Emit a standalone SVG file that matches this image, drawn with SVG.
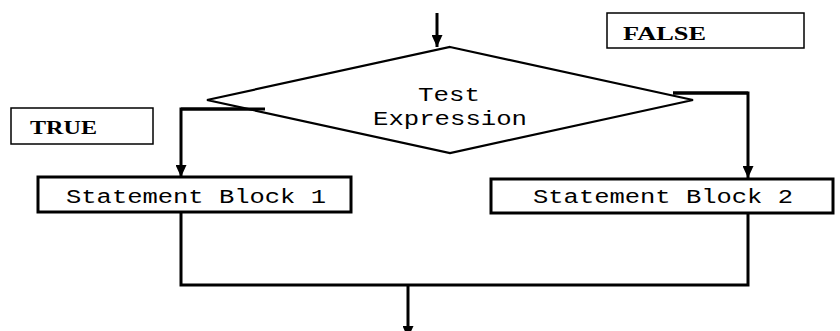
<svg xmlns="http://www.w3.org/2000/svg" width="840" height="331" viewBox="0 0 840 331">
<style>
.box{fill:#fff;stroke:#000;stroke-width:3}
.lbl{fill:#fff;stroke:#000;stroke-width:1.5}
.dia{fill:#fff;stroke:#000;stroke-width:2.2}
.mono{font-family:"Liberation Mono","Courier New",monospace;font-size:20px;fill:#000}
.serif{font-family:"Liberation Serif","Times New Roman",serif;font-weight:bold;font-size:19px;fill:#000}
.conn{fill:none;stroke:#000;stroke-width:3}
</style>
<defs>
<marker id="ah" viewBox="0 0 12 11" refX="12" refY="5.5" markerWidth="12" markerHeight="11" markerUnits="userSpaceOnUse" orient="auto">
<path d="M0,0 L12,5.5 L0,11 Z" fill="#000"/>
</marker>
</defs>
<rect width="840" height="331" fill="#fff"/>
<g id="connectors">
<line class="conn" x1="437" y1="13" x2="437" y2="47" marker-end="url(#ah)"/>
<polyline class="conn" points="265,109 181,109 181,177" marker-end="url(#ah)"/>
<polyline class="conn" points="673,93 748,93 748,178" marker-end="url(#ah)"/>
<polyline class="conn" points="181,212 181,285 748,285 748,213"/>
<line class="conn" x1="408" y1="285" x2="408" y2="338" marker-end="url(#ah)"/>
</g>
<g id="decision">
<polygon class="dia" points="450,47 693,100 450,153 207,100"/>
<text class="mono" x="418" y="101" textLength="62" lengthAdjust="spacingAndGlyphs">Test</text>
<text class="mono" x="373" y="125" textLength="154" lengthAdjust="spacingAndGlyphs">Expression</text>
</g>
<polyline class="conn" points="265,109 181,109"/>
<polyline class="conn" points="673,93 748,93"/>
<g id="true-label">
<rect class="lbl" x="11" y="108" width="142" height="36"/>
<text class="serif" x="30" y="134" textLength="67" lengthAdjust="spacingAndGlyphs">TRUE</text>
</g>
<g id="false-label">
<rect class="lbl" x="607" y="13" width="197" height="35"/>
<text class="serif" x="623" y="40" textLength="83" lengthAdjust="spacingAndGlyphs">FALSE</text>
</g>
<g id="block1">
<rect class="box" x="38" y="177" width="313" height="35"/>
<text class="mono" x="66" y="203" textLength="260" lengthAdjust="spacingAndGlyphs">Statement Block 1</text>
</g>
<g id="block2">
<rect class="box" x="491" y="179" width="342" height="34"/>
<text class="mono" x="533" y="203" textLength="260" lengthAdjust="spacingAndGlyphs">Statement Block 2</text>
</g>
</svg>
